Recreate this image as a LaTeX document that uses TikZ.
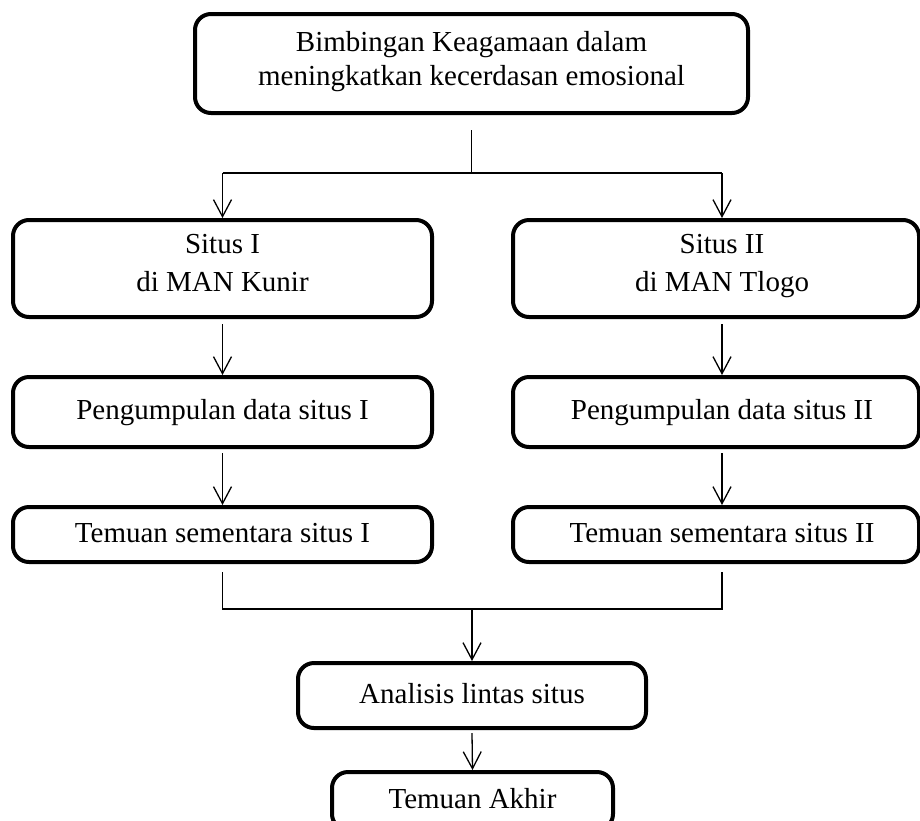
\documentclass[tikz,border=0pt]{standalone}
\usepackage{fontspec}
\setmainfont{Liberation Serif}
\usetikzlibrary{arrows.meta}
\begin{document}
\begin{tikzpicture}[x=1pt,y=-1pt,
  box/.style={draw,line width=4pt,rounded corners=16pt,inner sep=0pt,align=center,font=\fontsize{29}{38}\selectfont},
  lbox/.style={box,minimum width=419pt},
  rbox/.style={box,minimum width=406pt},
  conn/.style={line width=1.3pt},
  arr/.style={conn,-{Straight Barb[length=17pt,width=18pt]}}]
\useasboundingbox (0,0) rectangle (920,820);
\fill[white] (0,0) rectangle (920,820);
\clip (0,0) rectangle (920,820);
\node[box,minimum width=553pt,minimum height=99pt,font=\fontsize{29}{34}\selectfont] (top) at (471.5,63.5) {Bimbingan Keagamaan dalam\\meningkatkan kecerdasan emosional\strut};
\node[lbox,minimum height=97pt] (s1) at (222.5,268.5) {Situs I\\di MAN Kunir\strut};
\node[rbox,minimum height=97pt] (s2) at (716,268.5) {\hspace*{12pt}Situs II\\\hspace*{12pt}di MAN Tlogo\strut};
\node[lbox,minimum height=70pt] (p1) at (222.5,412) {Pengumpulan data situs I\strut};
\node[rbox,minimum height=70pt] (p2) at (716,412) {\hspace*{12pt}Pengumpulan data situs II\strut};
\node[lbox,minimum height=55pt] (t1) at (222.5,534.5) {Temuan sementara situs I\strut};
\node[rbox,minimum height=55pt] (t2) at (716,534.5) {\hspace*{12pt}Temuan sementara situs II\strut};
\node[box,minimum width=348pt,minimum height=65pt] (an) at (472,695.5) {Analisis lintas situs\strut};
\node[box,minimum width=281pt,minimum height=58pt] (ak) at (472.5,801) {Temuan Akhir\strut};
\coordinate (split) at (471.5,173);
\coordinate (merge) at (472,609);
\draw[conn] ([yshift=-15pt]top.south) -- (split);
\draw[conn] (s1.north |- split) -- ([xshift=6pt]s2.north |- split);
\draw[arr] (s1.north |- split) -- (s1.north);
\draw[arr] ([xshift=6pt]s2.north |- split) -- ([xshift=6pt]s2.north);
\draw[arr] ([yshift=-5pt]s1.south) -- (p1.north);
\draw[arr] ([xshift=6pt,yshift=-5pt]s2.south) -- ([xshift=6pt]p2.north);
\draw[arr] ([yshift=-4pt]p1.south) -- (t1.north);
\draw[arr] ([xshift=6pt,yshift=-4pt]p2.south) -- ([xshift=6pt]t2.north);
\draw[conn] ([yshift=-8pt]t1.south) |- (merge) -| ([xshift=6pt,yshift=-8pt]t2.south);
\draw[arr] (merge) -- (an.north);
\draw[arr] ([yshift=-3pt]an.south) -- (ak.north);
\end{tikzpicture}
\end{document}
